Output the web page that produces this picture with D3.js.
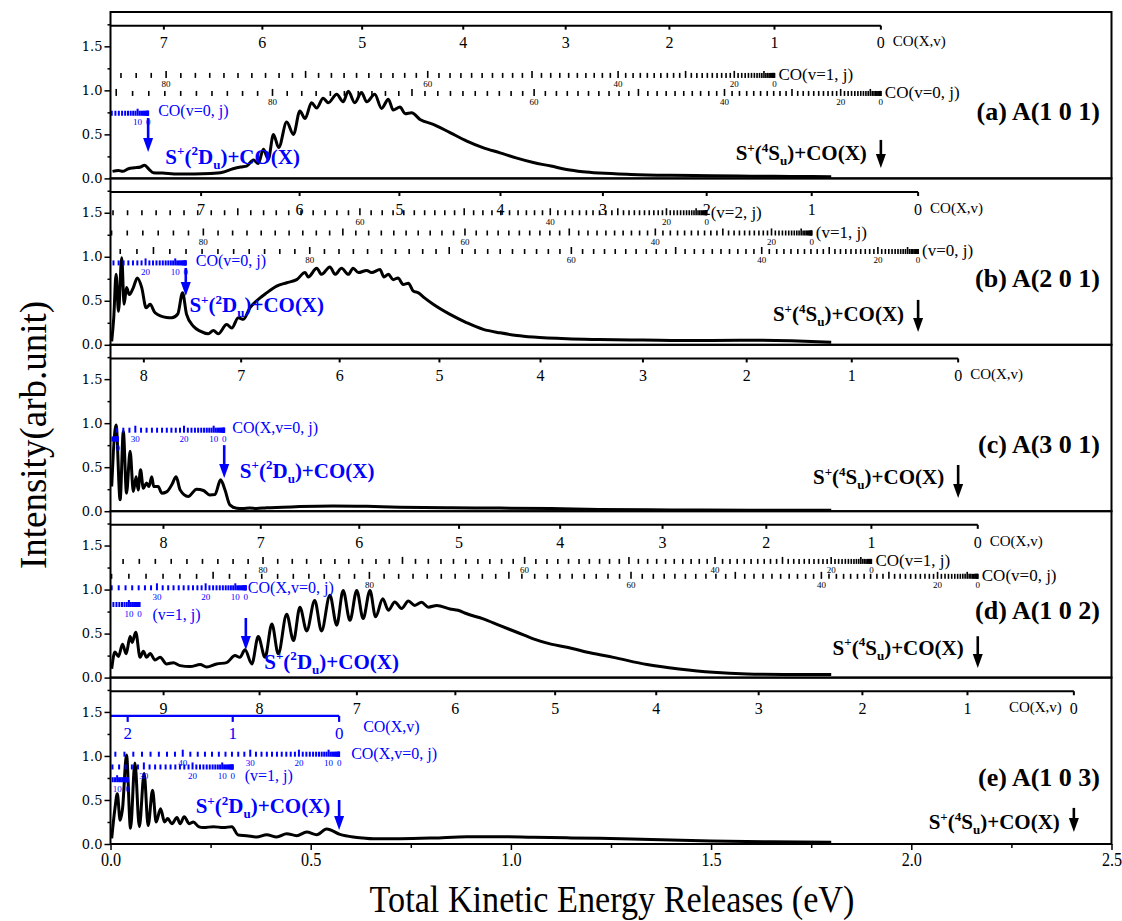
<!DOCTYPE html>
<html>
<head>
<meta charset="utf-8">
<script src="https://cdn.jsdelivr.net/npm/d3@7"></script>
<style>
  body { margin: 0; background: #fff; }
</style>
</head>
<body>
<script>
// TKER spectra: [TKER (eV), intensity]
const curveA = [[0.005,0.08],[0.02,0.09],[0.03,0.08],[0.045,0.11],[0.06,0.12],[0.075,0.13],[0.085,0.15],[0.097,0.10],[0.107,0.065],[0.13,0.06],[0.17,0.05],[0.21,0.05],[0.25,0.055],[0.28,0.07],[0.306,0.11],[0.325,0.13],[0.34,0.14],[0.357,0.21],[0.369,0.17],[0.382,0.33],[0.394,0.22],[0.407,0.5],[0.42,0.35],[0.44,0.64],[0.457,0.5],[0.473,0.765],[0.486,0.68],[0.502,0.86],[0.515,0.8],[0.531,0.91],[0.544,0.86],[0.565,0.955],[0.581,0.87],[0.594,0.99],[0.61,0.86],[0.627,0.975],[0.64,0.87],[0.66,0.955],[0.677,0.795],[0.694,0.9],[0.706,0.776],[0.723,0.81],[0.736,0.735],[0.752,0.746],[0.773,0.67],[0.806,0.614],[0.848,0.52],[0.89,0.424],[0.93,0.35],[0.973,0.29],[1.015,0.23],[1.056,0.18],[1.1,0.14],[1.139,0.10],[1.18,0.075],[1.222,0.06],[1.3,0.045],[1.4,0.035],[1.5,0.03],[1.6,0.025],[1.7,0.022],[1.8,0.02]];
const curveB = [[0.003,0.04],[0.008,0.3],[0.014,0.8],[0.02,0.38],[0.028,0.99],[0.034,0.46],[0.04,0.65],[0.047,0.57],[0.057,0.65],[0.067,0.76],[0.078,0.65],[0.089,0.42],[0.099,0.46],[0.111,0.365],[0.14,0.31],[0.153,0.307],[0.168,0.35],[0.18,0.59],[0.19,0.345],[0.207,0.21],[0.224,0.155],[0.244,0.125],[0.257,0.163],[0.269,0.125],[0.29,0.23],[0.303,0.19],[0.319,0.307],[0.332,0.29],[0.348,0.42],[0.365,0.5],[0.39,0.59],[0.415,0.667],[0.44,0.705],[0.465,0.74],[0.486,0.82],[0.494,0.77],[0.515,0.87],[0.527,0.8],[0.548,0.885],[0.561,0.8],[0.577,0.87],[0.594,0.8],[0.606,0.87],[0.619,0.82],[0.64,0.845],[0.652,0.82],[0.673,0.855],[0.683,0.77],[0.694,0.8],[0.706,0.74],[0.718,0.76],[0.731,0.685],[0.744,0.7],[0.756,0.61],[0.769,0.59],[0.785,0.53],[0.806,0.46],[0.848,0.345],[0.89,0.25],[0.931,0.175],[0.973,0.136],[1.015,0.106],[1.056,0.088],[1.14,0.068],[1.22,0.06],[1.3,0.055],[1.4,0.05],[1.5,0.05],[1.6,0.052],[1.7,0.045],[1.8,0.03]];
const curveC = [[0.003,0.28],[0.014,0.98],[0.024,0.13],[0.032,0.905],[0.04,0.205],[0.049,0.68],[0.057,0.224],[0.064,0.39],[0.069,0.24],[0.075,0.47],[0.082,0.26],[0.09,0.32],[0.096,0.28],[0.103,0.39],[0.108,0.28],[0.119,0.28],[0.128,0.205],[0.14,0.22],[0.153,0.3],[0.164,0.39],[0.174,0.24],[0.194,0.167],[0.215,0.25],[0.232,0.235],[0.248,0.185],[0.261,0.19],[0.275,0.356],[0.286,0.24],[0.298,0.072],[0.315,0.034],[0.33,0.03],[0.348,0.035],[0.365,0.03],[0.39,0.04],[0.43,0.045],[0.473,0.053],[0.556,0.06],[0.64,0.055],[0.723,0.045],[0.85,0.04],[0.973,0.035],[1.1,0.03],[1.22,0.02],[1.4,0.015],[1.6,0.01],[1.8,0.01]];
const curveD = [[0.003,0.1],[0.011,0.29],[0.02,0.24],[0.03,0.38],[0.039,0.27],[0.049,0.466],[0.054,0.4],[0.063,0.515],[0.074,0.23],[0.082,0.3],[0.09,0.23],[0.099,0.275],[0.111,0.2],[0.124,0.23],[0.14,0.155],[0.157,0.17],[0.174,0.136],[0.199,0.125],[0.224,0.148],[0.24,0.12],[0.265,0.155],[0.29,0.17],[0.311,0.25],[0.323,0.23],[0.336,0.315],[0.353,0.155],[0.369,0.466],[0.386,0.23],[0.403,0.61],[0.419,0.27],[0.44,0.72],[0.457,0.42],[0.473,0.8],[0.49,0.53],[0.51,0.875],[0.527,0.53],[0.548,0.935],[0.565,0.595],[0.581,0.99],[0.598,0.65],[0.615,0.99],[0.631,0.67],[0.648,0.99],[0.662,0.69],[0.68,0.895],[0.694,0.765],[0.71,0.86],[0.727,0.785],[0.744,0.87],[0.76,0.82],[0.777,0.855],[0.794,0.8],[0.815,0.82],[0.848,0.78],[0.868,0.765],[0.89,0.725],[0.931,0.667],[0.973,0.59],[1.015,0.515],[1.056,0.44],[1.1,0.38],[1.14,0.345],[1.2,0.28],[1.256,0.23],[1.34,0.148],[1.42,0.098],[1.505,0.06],[1.59,0.042],[1.7,0.036],[1.8,0.034]];
const curveE = [[0.003,0.065],[0.011,0.4],[0.017,0.57],[0.024,0.27],[0.03,0.4],[0.04,1.01],[0.05,0.178],[0.061,0.92],[0.072,0.197],[0.084,0.8],[0.094,0.21],[0.105,0.61],[0.114,0.25],[0.125,0.4],[0.135,0.25],[0.143,0.29],[0.153,0.23],[0.166,0.3],[0.174,0.23],[0.184,0.31],[0.197,0.23],[0.207,0.25],[0.22,0.197],[0.232,0.186],[0.257,0.197],[0.282,0.186],[0.303,0.197],[0.319,0.102],[0.34,0.095],[0.365,0.08],[0.39,0.106],[0.415,0.08],[0.44,0.117],[0.465,0.095],[0.49,0.136],[0.515,0.106],[0.54,0.17],[0.573,0.11],[0.606,0.08],[0.631,0.068],[0.656,0.06],[0.723,0.06],[0.806,0.068],[0.89,0.083],[0.973,0.083],[1.056,0.076],[1.14,0.07],[1.222,0.065],[1.35,0.05],[1.5,0.035],[1.65,0.025],[1.8,0.02]];

const panelNames = ["(a) A(1 0 1)", "(b) A(2 0 1)", "(c) A(3 0 1)", "(d) A(1 0 2)", "(e) A(1 0 3)"];
// TKER of S+(4Su)+CO(X,v=0,j=0) and S+(2Du)+CO(X,v=0,j=0) for each panel
const thr4S = [1.924, 2.017, 2.117, 2.166, 2.406];
const thr2D = [0.094, 0.188, 0.284, 0.338, 0.571];
// CO(X) vibrational term values G(v)-G(0) in eV, rotational constants in eV
const coVib = [0, 0.2657, 0.5281, 0.7872, 1.0430, 1.2955, 1.5447, 1.7907, 2.0337, 2.2734];
const coB = 0.0002394, coD = 7.6e-10;
const xTicks = [0, 0.5, 1.0, 1.5, 2.0, 2.5];
const xMinor = [0.25, 0.75, 1.25, 1.75, 2.25];
const yTicks = [0, 0.5, 1.0, 1.5];
const yMinor = [0.25, 0.75, 1.25, 1.75];

// layout of the rotational ladders (row height in intensity units)
const blackRows = [
  [{v: 1, y: 1.17, label: "CO(v=1, j)"}, {v: 0, y: 0.965, label: "CO(v=0, j)"}],
  [{v: 2, y: 1.50, label: "(v=2, j)"}, {v: 1, y: 1.27, label: "(v=1, j)"}, {v: 0, y: 1.06, label: "(v=0, j)"}],
  [],
  [{v: 1, y: 1.32, label: "CO(v=1, j)"}, {v: 0, y: 1.15, label: "CO(v=0, j)"}],
  []
];
const blueRows = [
  [{v: 0, y: 0.74, label: "CO(v=0, j)", dx: 10, dy: 3}],
  [{v: 0, y: 0.93, label: "CO(v=0, j)", dx: 10, dy: 3}],
  [{v: 0, y: 0.92, label: "CO(X,v=0, j)", dx: 8, dy: 3}, {v: 1, y: 0.82, label: ""}],
  [{v: 0, y: 1.02, label: "CO(X,v=0, j)", dx: 2, dy: 5}, {v: 1, y: 0.83, label: "(v=1, j)", dx: 13, dy: 15}],
  [{v: 0, y: 1.02, label: "CO(X,v=0, j)", dx: 12, dy: 5}, {v: 1, y: 0.875, label: "(v=1, j)", dx: 12, dy: 14}, {v: 2, y: 0.73, label: ""}]
];
const blueArrow = [[0.686, 0.30], [0.873, 0.555], [0.75, 0.376], [0.677, 0.314], [0.50, 0.16]];
const blackArrow = [[0.437, 0.118], [0.51, 0.145], [0.525, 0.15], [0.47, 0.11], [0.41, 0.136]];
const blueText = [[0.137, 0.165, "start"], [0.197, 0.37, "start"], [0.323, 0.38, "start"], [0.384, 0.10, "start"], [0.549, 0.35, "end"]];
const blackTextY = [0.21, 0.27, 0.31, 0.26, 0.17];

const BLUE = "#0000ff";
const W = 1122, H = 921;
const left = 110.5, right = 1111.5, top0 = 12, ph = 166.4, yMax = 1.89;

const svg = d3.select("body").append("svg")
  .attr("width", W).attr("height", H)
  .style("font-family", "'Liberation Serif', 'Times New Roman', serif");

const x = d3.scaleLinear().domain([0, 2.5]).range([left, right]);
const rot = j => coB * j * (j + 1) - coD * (j * (j + 1)) ** 2;

// text with super/subscripts: parts = [[text, +1 sup / -1 sub / 0]]
function rich(t, parts, size) {
  let cur = 0;
  parts.forEach(([s, k]) => {
    const shift = k > 0 ? -size * 0.4 : k < 0 ? size * 0.25 : 0;
    t.append("tspan").attr("dy", shift - cur).attr("font-size", k ? size * 0.62 : size).text(s);
    cur = shift;
  });
}

function arrow(g, px, yTop, yBot, color) {
  g.append("line").attr("x1", px).attr("x2", px).attr("y1", yTop).attr("y2", yBot - 12)
    .attr("stroke", color).attr("stroke-width", 2.6);
  g.append("path").attr("d", `M${px - 5},${yBot - 14}L${px + 5},${yBot - 14}L${px},${yBot}Z`).attr("fill", color);
}

function ladder(g, y, start, row, color, step, big) {
  const js = d3.range(0, 100).filter(j => x(start - rot(j)) > left + 1);
  const yy = y(row.y);
  g.selectAll(null).data(js).join("line")
    .attr("x1", j => x(start - rot(j))).attr("x2", j => x(start - rot(j)))
    .attr("y1", j => yy - (j % 10 === 0 && j > 0 ? 4.5 : 2.5)).attr("y2", yy + 2.5)
    .attr("stroke", color).attr("stroke-width", big ? 2 : 1.6);
  g.selectAll(null).data(js.filter(j => j % step === 0 && x(start - rot(j)) > left + 6)).join("text")
    .attr("x", j => x(start - rot(j))).attr("y", yy + 12)
    .attr("text-anchor", "middle").attr("font-size", 9).attr("fill", color)
    .text(j => j);
  if (row.label) {
    g.append("text").attr("x", x(start) + (row.dx ?? 4)).attr("y", yy + (row.dy ?? 5))
      .attr("font-size", big ? 16 : 17).attr("fill", color).text(row.label);
  }
}

[curveA, curveB, curveC, curveD, curveE].forEach((data, i) => {
  const y0 = top0 + ph * i, y1 = y0 + ph;
  const y = d3.scaleLinear().domain([0, yMax]).range([y1, y0]);
  const g = svg.append("g");

  g.append("clipPath").attr("id", "clip" + i)
    .append("rect").attr("x", left).attr("y", y0).attr("width", right - left).attr("height", ph);

  // y axis
  const ya = g.append("g").attr("transform", `translate(${left},0)`)
    .call(d3.axisLeft(y).tickValues(yTicks).tickSize(6).tickFormat(d3.format(".1f")));
  ya.select(".domain").remove();
  ya.selectAll("line").attr("stroke-width", 1.5);
  ya.selectAll("text").attr("font-family", "'DejaVu Serif', serif").attr("font-size", 13).attr("x", -8);
  const ym = g.append("g").attr("transform", `translate(${left},0)`)
    .call(d3.axisLeft(y).tickValues(yMinor).tickSize(3).tickFormat(""));
  ym.select(".domain").remove();
  ym.selectAll("line").attr("stroke-width", 1.5);

  // spectrum
  g.append("path").datum(data)
    .attr("clip-path", `url(#clip${i})`)
    .attr("fill", "none").attr("stroke", "#000").attr("stroke-width", 3)
    .attr("stroke-linejoin", "round")
    .attr("d", d3.line().x(d => x(d[0])).y(d => y(d[1])).curve(d3.curveMonotoneX));

  // top CO(X,v) scale for the S+(4Su) limit
  const t4 = thr4S[i];
  const vs = d3.range(coVib.length).filter(v => t4 - coVib[v] >= 0);
  const yl = y(1.735);
  g.append("line").attr("x1", left).attr("x2", x(t4)).attr("y1", yl).attr("y2", yl)
    .attr("stroke", "#000").attr("stroke-width", 2);
  g.selectAll(null).data(vs).join("line")
    .attr("x1", v => x(t4 - coVib[v])).attr("x2", v => x(t4 - coVib[v]))
    .attr("y1", yl).attr("y2", yl + 4).attr("stroke", "#000").attr("stroke-width", 2);
  g.selectAll(null).data(vs).join("text")
    .attr("x", v => x(t4 - coVib[v])).attr("y", y(1.545) + 6)
    .attr("text-anchor", "middle").attr("font-size", 16).text(v => v);
  g.append("text")
    .attr("x", i === 4 ? x(t4) - 12 : x(t4) + 12).attr("y", y(1.545) + 4)
    .attr("text-anchor", i === 4 ? "end" : "start")
    .attr("font-size", 15).text("CO(X,v)");

  blackRows[i].forEach(r => ladder(g, y, t4 - coVib[r.v], r, "#000", 20, false));

  // blue S+(2Du) ladders
  const t2 = thr2D[i];
  blueRows[i].forEach(r => ladder(g, y, t2 - coVib[r.v], r, BLUE, 10, true));

  if (i === 4) {
    const yb = y(1.455);
    g.append("line").attr("x1", left).attr("x2", x(t2)).attr("y1", yb).attr("y2", yb)
      .attr("stroke", BLUE).attr("stroke-width", 2.2);
    const bv = [0, 1, 2];
    g.selectAll(null).data(bv).join("line")
      .attr("x1", v => x(t2 - coVib[v])).attr("x2", v => x(t2 - coVib[v]))
      .attr("y1", yb).attr("y2", yb + 6).attr("stroke", BLUE).attr("stroke-width", 2.2);
    g.selectAll(null).data(bv).join("text")
      .attr("x", v => x(t2 - coVib[v])).attr("y", y(1.26) + 6)
      .attr("text-anchor", "middle").attr("font-size", 17).attr("fill", BLUE).text(v => v);
    g.append("text").attr("x", x(t2) + 24).attr("y", y(1.33) + 5)
      .attr("font-size", 16).attr("fill", BLUE).text("CO(X,v)");
  }

  // arrows and channel labels
  arrow(g, x(t2), y(blueArrow[i][0]), y(blueArrow[i][1]), BLUE);
  arrow(g, x(t4), y(blackArrow[i][0]), y(blackArrow[i][1]), "#000");

  const bt = blueText[i];
  rich(g.append("text").attr("x", x(bt[0])).attr("y", y(bt[1])).attr("text-anchor", bt[2])
    .attr("font-weight", "bold").attr("fill", BLUE),
    [["S", 0], ["+", 1], ["(", 0], ["2", 1], ["D", 0], ["u", -1], [")+CO(X)", 0]], 21);
  rich(g.append("text").attr("x", x(t4) - 14).attr("y", y(blackTextY[i])).attr("text-anchor", "end")
    .attr("font-weight", "bold"),
    [["S", 0], ["+", 1], ["(", 0], ["4", 1], ["S", 0], ["u", -1], [")+CO(X)", 0]], 21);

  g.append("text").attr("x", 1100).attr("y", y(0.66)).attr("text-anchor", "end")
    .attr("font-weight", "bold").attr("font-size", 26).text(panelNames[i]);

  // frame
  g.append("rect").attr("x", left).attr("y", y0).attr("width", right - left).attr("height", ph)
    .attr("fill", "none").attr("stroke", "#000").attr("stroke-width", 2);

  if (i === 4) {
    const xa = g.append("g").attr("transform", `translate(0,${y1})`)
      .call(d3.axisBottom(x).tickValues(xTicks).tickSize(6).tickFormat(d3.format(".1f")));
    xa.select(".domain").remove();
    xa.selectAll("line").attr("stroke-width", 1.5);
    xa.selectAll("text").attr("font-size", 19).attr("font-family", "'Liberation Serif', serif")
      .attr("y", 9).attr("transform", "scale(0.85,1)");
    const xm = g.append("g").attr("transform", `translate(0,${y1})`)
      .call(d3.axisBottom(x).tickValues(xMinor).tickSize(4).tickFormat(""));
    xm.select(".domain").remove();
    xm.selectAll("line").attr("stroke-width", 1.5);
  }
});

svg.append("text").attr("transform", "translate(612,912) scale(0.9,1)")
  .attr("text-anchor", "middle").attr("font-size", 38).text("Total Kinetic Energy Releases (eV)");
svg.append("text").attr("transform", "translate(46,435) rotate(-90)")
  .attr("text-anchor", "middle").attr("font-size", 37).text("Intensity(arb.unit)");
</script>
</body>
</html>
